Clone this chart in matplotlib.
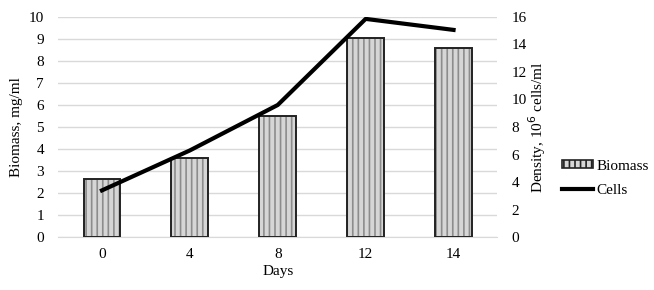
import numpy as np
import matplotlib.pyplot as plt
from matplotlib.patches import Patch
from matplotlib.lines import Line2D

plt.rcParams['font.family'] = ['Liberation Serif', 'DejaVu Serif']
plt.rcParams['hatch.linewidth'] = 1.2

# data
days = ['0', '4', '8', '12', '14']
biomass = [2.63, 3.58, 5.5, 9.02, 8.6]      # mg/ml, left axis
cells = [3.4, 6.3, 9.6, 15.85, 15.05]       # 10^6 cells/ml, right axis

x = np.arange(len(days))
fs = 11

fig = plt.figure(figsize=(6.54, 2.9), dpi=100)
ax1 = fig.add_axes([0.0887, 0.182, 0.672, 0.760])

# hatched fill first, then a black outline on top
ax1.bar(x, biomass, width=0.42, color='#d6d6d6', edgecolor='#8c8c8c',
        hatch='|||', linewidth=0, zorder=2)
ax1.bar(x, biomass, width=0.42, fill=False, edgecolor='#222222',
        linewidth=1.4, zorder=3)

ax1.set_xlim(-0.5, len(days) - 0.5)
ax1.set_ylim(0, 10)
ax1.set_yticks(range(0, 11))
ax1.set_xticks(x)
ax1.set_xticklabels(days)
ax1.grid(axis='y', color='#d9d9d9', linewidth=1, zorder=0)
ax1.set_axisbelow(True)
for s in ['top', 'right', 'left']:
    ax1.spines[s].set_visible(False)
ax1.spines['bottom'].set_color('#d9d9d9')
ax1.tick_params(length=0, labelsize=fs, pad=8)
ax1.tick_params(axis='y', pad=10)
ax1.set_xlabel('Days', fontsize=fs, labelpad=3)
ax1.set_ylabel('Biomass, mg/ml', fontsize=fs, labelpad=4)

ax2 = ax1.twinx()
ax2.plot(x, cells, color='black', linewidth=3, zorder=4)
ax2.set_ylim(0, 16)
ax2.set_yticks(range(0, 17, 2))
for s in ax2.spines.values():
    s.set_visible(False)
ax2.tick_params(length=0, labelsize=fs, pad=10)
ax2.set_ylabel('Density, 10$^6$ cells/ml', fontsize=fs, labelpad=0)

handles = [Patch(facecolor='#d6d6d6', edgecolor='#222222', hatch='|||', linewidth=1.2),
           Line2D([0], [0], color='black', linewidth=3)]
fig.legend(handles, ['Biomass', 'Cells'], loc='center left',
           bbox_to_anchor=(0.86, 0.385), frameon=False, fontsize=fs,
           handlelength=2.0, handleheight=0.45, handletextpad=0.2,
           labelspacing=0.75, borderpad=0, borderaxespad=0)

fig.savefig('out.png', dpi=100)
